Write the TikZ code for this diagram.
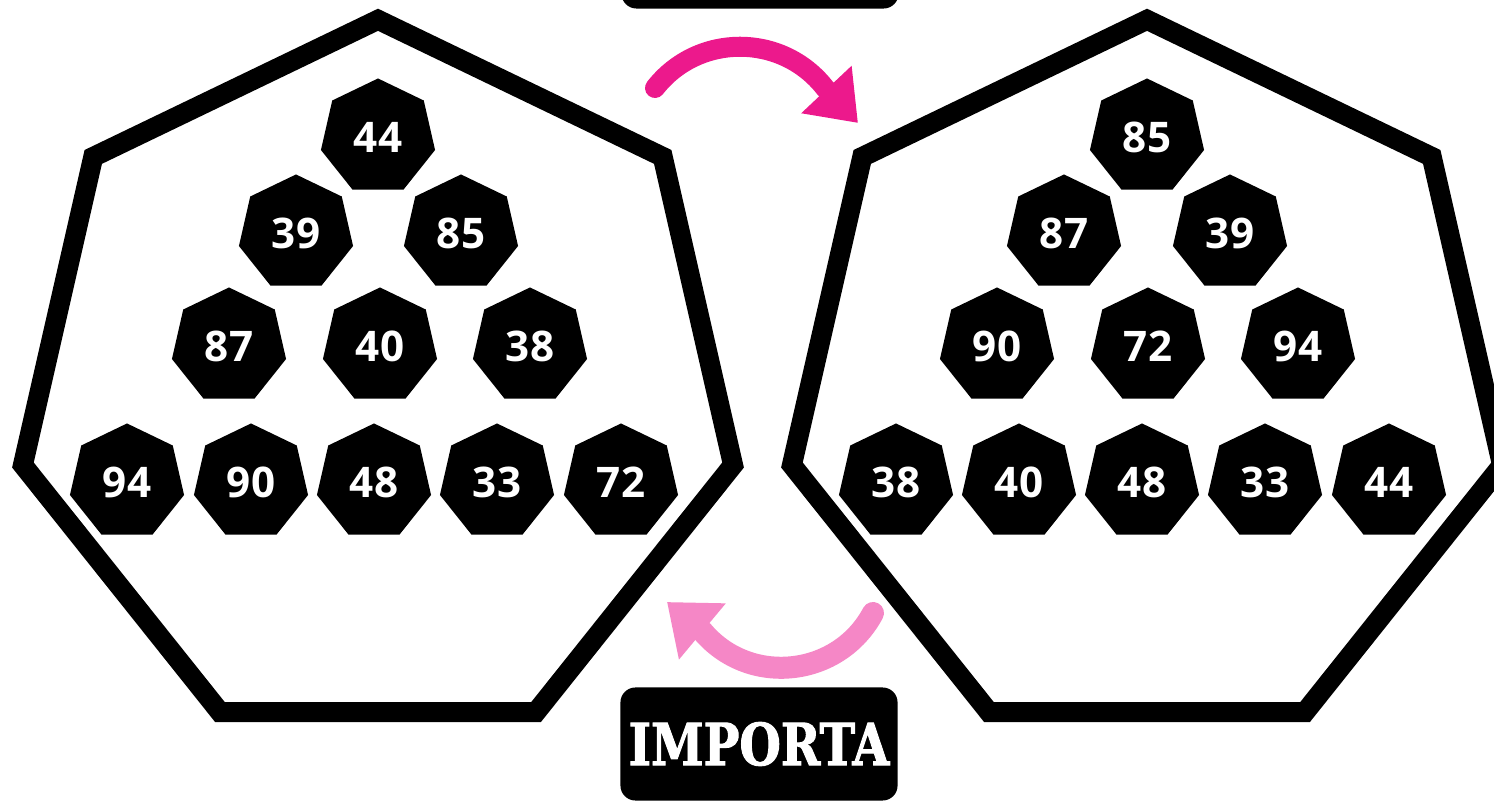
\documentclass[tikz,border=0pt]{standalone}
\usepackage{fontspec}
\setmainfont{Open Sans}
\newfontfamily\slabfont[FakeStretch=0.82, FakeBold=1.6]{DejaVu Serif}
\usetikzlibrary{shapes.geometric,arrows.meta}
\definecolor{hotpink}{RGB}{236,25,140}
\definecolor{softpink}{RGB}{245,135,198}
\tikzset{
  board/.style={regular polygon, regular polygon sides=7, draw=black, fill=white, line width=0.2cm, minimum size=7.28cm},
  chip/.style={regular polygon, regular polygon sides=7, fill=black, text=white, inner sep=0pt, minimum size=1.17cm, font=\bfseries\fontsize{12}{12}\selectfont},
  tagbox/.style={fill=black, rounded corners=0.15cm, inner sep=0pt, minimum width=2.77cm, minimum height=1.13cm, text=white, font=\slabfont\bfseries\fontsize{16.5}{16.5}\selectfont},
  bentarrow/.style={line width=0.2cm, line cap=round}
}
\begin{document}
\begin{tikzpicture}[x=0.01cm, y=-0.01cm]
  \clip (0,0) rectangle (1494,801);
  \fill[white] (0,0) rectangle (1494,801);
  % the two boards
  \node[board] (left) at (378,384) {};
  \node[board] (right) at (1147,384) {};
  % chips before
  \foreach \x/\y/\n [count=\i] in {378/137/44, 296/233/39, 461/233/85, 229/346/87, 380/346/40, 530/346/38,
      127/482/94, 251/482/90, 374/482/48, 497/482/33, 621/482/72}
    \node[chip] (L\i) at (\x,\y) {\n};
  % chips after
  \foreach \x/\y/\n [count=\i] in {1147/137/85, 1064/233/87, 1230/233/39, 997/346/90, 1148/346/72, 1298/346/94,
      896/482/38, 1019/482/40, 1142/482/48, 1265/482/33, 1389/482/44}
    \node[chip] (R\i) at (\x,\y) {\n};
  % tags
  \node[tagbox] (topbox) at (760,-48) {};
  \node[tagbox] (importa) at (759,744) {IMPORTA};
  % arrows
  \coordinate (fwdstart) at (655,88);
  \coordinate (fwdbase) at (825,88);
  \coordinate (fwdend) at (858,123);
  \coordinate (backstart) at (873,613);
  \coordinate (backbase) at (703,632);
  \coordinate (backend) at (667,602);
  \draw[bentarrow, hotpink, -{Triangle[length=0.46cm, width=0.66cm]}]
    (fwdstart) .. controls (698,33) and (782,33) .. (fwdbase) -- (fwdend);
  \draw[bentarrow, softpink, line width=0.22cm, -{Triangle[length=0.46cm, width=0.70cm]}]
    (backstart) .. controls (839,677) and (750,687) .. (backbase) -- (backend);
\end{tikzpicture}
\end{document}
